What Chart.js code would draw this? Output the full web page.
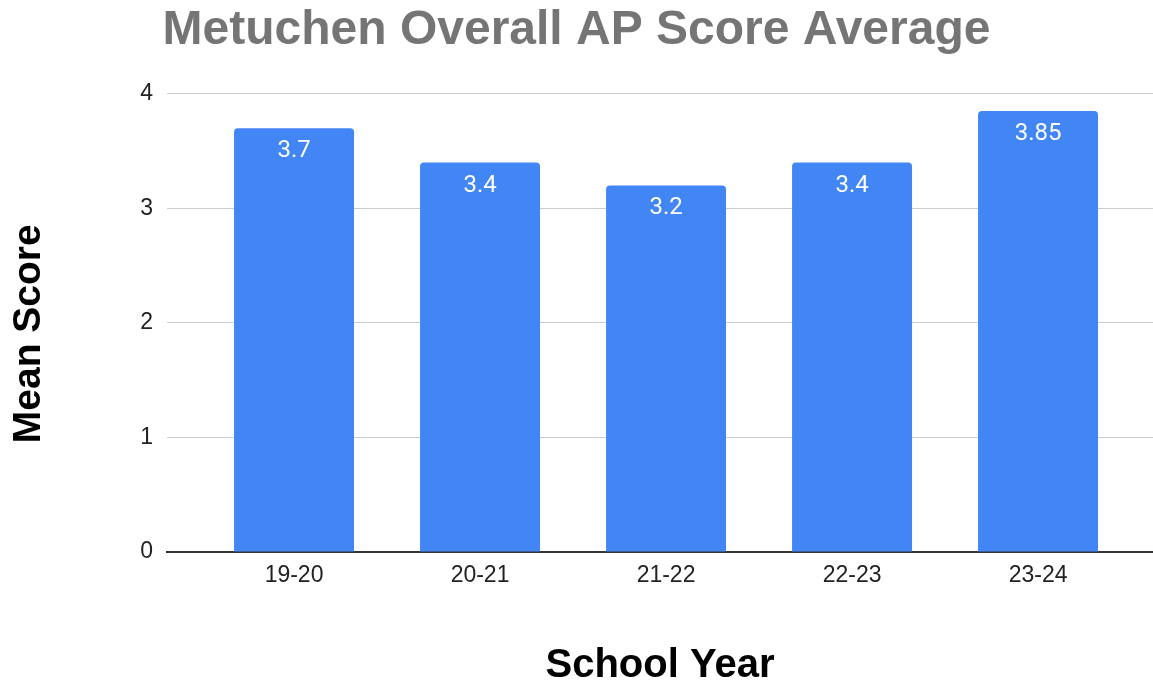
<!DOCTYPE html>
<html>
<head>
<meta charset="utf-8">
<title>Metuchen Overall AP Score Average</title>
<script src="https://cdn.jsdelivr.net/npm/chart.js@4"></script>
<style>
    body { margin: 0; background: #fff; }
    #wrap { width: 1153px; height: 686px; position: relative; }
</style>
</head>
<body>
<div id="wrap"><canvas id="apChart"></canvas></div>
<script>
// Chart data
const schoolYears = ['19-20', '20-21', '21-22', '22-23', '23-24'];
const meanScores = [3.7, 3.4, 3.2, 3.4, 3.85];
const scoreTicks = [0, 1, 2, 3, 4];

const SANS = "'Liberation Sans', Arial, sans-serif";

// White value labels inside the top of each bar
const barLabels = {
    id: 'barLabels',
    afterDatasetsDraw(chart) {
        const ctx = chart.ctx;
        const meta = chart.getDatasetMeta(0);
        ctx.save();
        ctx.fillStyle = '#ffffff';
        ctx.font = "24px Roboto, Arial, sans-serif";
        ctx.textAlign = 'center';
        ctx.textBaseline = 'middle';
        meta.data.forEach(function(bar, i) {
            ctx.fillText(String(meanScores[i]), bar.x, bar.y + 23);
        });
        ctx.restore();
    }
};

document.addEventListener('DOMContentLoaded', function() {
    const ctx = document.getElementById('apChart').getContext('2d');

    new Chart(ctx, {
        type: 'bar',
        data: {
            datasets: [{
                data: meanScores.map((v, i) => ({ x: i, y: v })),
                backgroundColor: '#4285f4',
                borderRadius: { topLeft: 4, topRight: 4 },
                borderSkipped: 'start',
                categoryPercentage: 0.645,
                barPercentage: 1
            }]
        },
        options: {
            responsive: true,
            maintainAspectRatio: false,
            animation: false,
            layout: { padding: 0 },
            plugins: {
                legend: { display: false },
                tooltip: { enabled: false },
                title: {
                    display: true,
                    text: 'Metuchen Overall AP Score Average',
                    color: '#757575',
                    font: { family: SANS, size: 48, weight: 'bold', lineHeight: 1.1 },
                    padding: { top: 4, bottom: 37 }
                }
            },
            scales: {
                x: {
                    type: 'linear',
                    offset: false,
                    min: -0.683,
                    max: 4.618,
                    grid: { display: false, drawTicks: false },
                    border: { display: true, color: '#333333', width: 2 },
                    afterBuildTicks: function(scale) {
                        scale.ticks = schoolYears.map((c, i) => ({ value: i }));
                    },
                    afterFit: function(scale) {
                        scale.height = 134;
                    },
                    ticks: {
                        autoSkip: false,
                        maxRotation: 0,
                        padding: 10,
                        color: '#222222',
                        font: { family: SANS, size: 23 },
                        callback: function(value) {
                            return schoolYears[value];
                        }
                    },
                    title: {
                        display: true,
                        text: 'School Year',
                        color: '#000000',
                        font: { family: SANS, size: 40, weight: 'bold', lineHeight: 1.0 },
                        padding: { top: 0, bottom: 0 }
                    }
                },
                y: {
                    min: 0,
                    max: 4,
                    grid: { color: '#cccccc', lineWidth: 1, drawTicks: false },
                    border: { display: false },
                    afterBuildTicks: function(scale) {
                        scale.ticks = scoreTicks.map(v => ({ value: v }));
                    },
                    afterFit: function(scale) {
                        scale.width = 167;
                    },
                    ticks: {
                        padding: 14,
                        color: '#222222',
                        font: { family: SANS, size: 23 }
                    },
                    title: {
                        display: true,
                        text: 'Mean Score  ',
                        color: '#000000',
                        font: { family: SANS, size: 39, weight: 'bold', lineHeight: 1.2 },
                        padding: { top: 6, bottom: 0 }
                    }
                }
            }
        },
        plugins: [barLabels]
    });
});
</script>
</body>
</html>
